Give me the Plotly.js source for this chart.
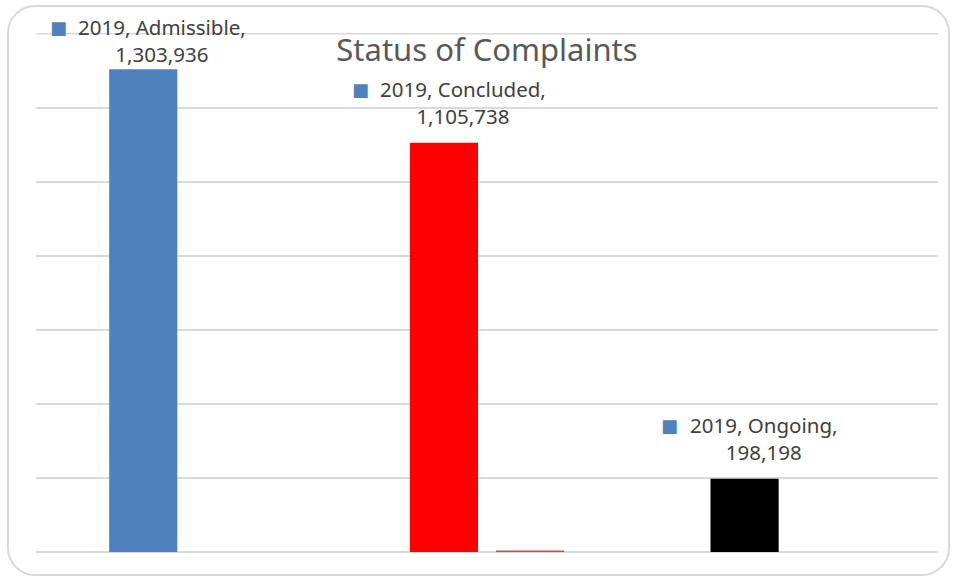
<!DOCTYPE html>
<html>
<head>
<meta charset="utf-8">
<script src="https://cdn.plot.ly/plotly-3.0.1.min.js"></script>
<style>
  html, body { margin: 0; padding: 0; background: #fff; }
  #wrap { position: relative; width: 955px; height: 578px; }
  #frame { position: absolute; left: 7px; top: 5px; width: 943px; height: 571px;
           border: 2px solid #d9d9d9; border-radius: 28px; box-sizing: border-box; pointer-events: none; }
  #chart { position: absolute; left: 0; top: 0; width: 955px; height: 578px; }
</style>
</head>
<body>
<div id="wrap">
  <div id="frame"></div>
  <div id="chart"></div>
</div>
<script>
// ---- data ----
const categories = ["Admissible", "Concluded", "Ongoing"];
const series2019 = [1303936, 1105738, 198198];
const seriesOther = [0, 4000, 0];
const seriesName = "2019";
const barColors = ["#4f81bd", "#ff0000", "#000000"];
const axisMax = 1400000;

const FONT = "Noto Sans, sans-serif";
const LABEL_SIZE = 20.5;

function fmt(v) { return v.toLocaleString("en-US"); }

function textWidth(str, size) {
  const c = document.createElement("canvas").getContext("2d");
  c.font = size + "px " + FONT;
  return c.measureText(str).width;
}

const traces = [
  { type: "bar", x: categories, y: series2019, name: seriesName,
    marker: { color: barColors }, hoverinfo: "x+y" },
  { type: "bar", x: categories, y: seriesOther, name: "other",
    marker: { color: "#c0504d" }, hoverinfo: "x+y" }
];

const labelYShift = [-1, 11, 11];
const annotations = [];
categories.forEach((c, i) => {
  const line1 = seriesName + ", " + c + ",";
  const w = textWidth(line1, LABEL_SIZE);
  annotations.push({
    x: c, y: series2019[i], xref: "x", yref: "y",
    text: line1 + "<br>" + fmt(series2019[i]),
    showarrow: false, xanchor: "center", yanchor: "bottom", align: "center",
    xshift: -24, yshift: labelYShift[i],
    font: { family: FONT, size: LABEL_SIZE, color: "#404040" }
  });
  annotations.push({
    x: c, y: series2019[i], xref: "x", yref: "y",
    text: "■",
    showarrow: false, xanchor: "center", yanchor: "bottom",
    xshift: -24 - w / 2 - 20, yshift: labelYShift[i] + 30,
    font: { family: "DejaVu Sans", size: 18, color: "#4f81bd" }
  });
});

const layout = {
  width: 955, height: 578,
  margin: { l: 36, r: 17, t: 33, b: 26, pad: 0 },
  paper_bgcolor: "rgba(0,0,0,0)", plot_bgcolor: "rgba(0,0,0,0)",
  showlegend: false,
  barmode: "group", bargap: 0.427, bargroupgap: 0.209,
  title: { text: "Status of Complaints", x: 0.5, xref: "paper", y: 1 - 50 / 578, yanchor: "middle",
           font: { family: FONT, size: 31, color: "#595959" } },
  xaxis: { showticklabels: false, ticks: "", showgrid: false, zeroline: false, showline: false },
  yaxis: { range: [0, 1402000], dtick: 200000, showticklabels: false, ticks: "",
           showgrid: true, gridcolor: "#d9d9d9", gridwidth: 1.5,
           zeroline: true, zerolinecolor: "#d9d9d9", zerolinewidth: 1.5, showline: false },
  shapes: [{ type: "line", xref: "paper", yref: "y", x0: 0, x1: 1, y0: axisMax, y1: axisMax,
             line: { color: "#d9d9d9", width: 1.5 }, layer: "below" }],
  annotations: annotations
};

Plotly.newPlot("chart", traces, layout, { displayModeBar: false, staticPlot: true });
</script>
</body>
</html>
